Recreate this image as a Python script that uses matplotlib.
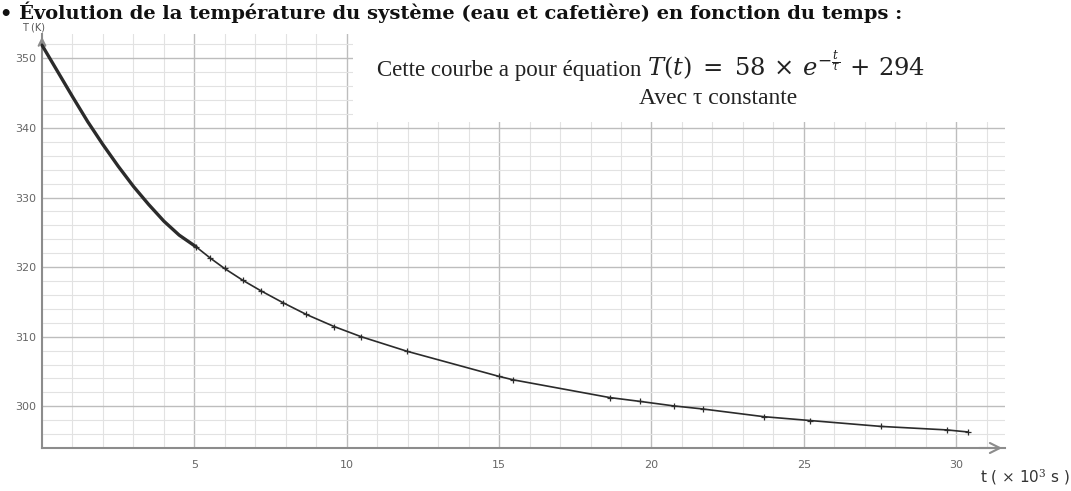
import matplotlib.pyplot as plt
from matplotlib.patches import Rectangle
from matplotlib.ticker import MultipleLocator
import numpy as np

# values: t in 10^3 s, T in K
t_vals = [0.0, 0.5, 1.0, 1.5, 2.0, 2.5, 3.0, 3.5, 4.0, 4.5, 5.06,
          5.52, 5.99, 6.59, 7.18, 7.90, 8.67, 9.59, 10.47, 11.98,
          14.99, 15.46, 18.63, 19.62, 20.73, 21.70, 23.69, 25.20,
          27.54, 29.69, 30.39]
T_vals = [351.9, 348.2, 344.5, 340.9, 337.6, 334.5, 331.6, 329.0, 326.6, 324.6, 322.9,
          321.3, 319.8, 318.1, 316.6, 314.9, 313.2, 311.45, 310.0, 307.9,
          304.3, 303.8, 301.25, 300.7, 300.05, 299.6, 298.5, 297.95,
          297.1, 296.6, 296.3]
n_dense = 11  # first points: thick part without visible markers

xticks = [5, 10, 15, 20, 25, 30]
yticks = [300, 310, 320, 330, 340, 350]

title = "\u2022 \u00c9volution de la temp\u00e9rature du syst\u00e8me (eau et cafeti\u00e8re) en fonction du temps :"
eq_words = "Cette courbe a pour \u00e9quation"
eq_math = r"$T(t)\;=\;58\,\times\,e^{-\frac{t}{\tau}}\,+\,294$"
avec_text = "Avec \u03c4 constante"

plt.rcParams['mathtext.fontset'] = 'dejavuserif'

fig = plt.figure(figsize=(10.71, 4.91), dpi=100)
ax = fig.add_axes([42 / 1071, 43 / 491, 963 / 1071, 414 / 491])

ax.set_xlim(0, 31.6)
ax.set_ylim(294, 353.5)

ax.xaxis.set_minor_locator(MultipleLocator(1))
ax.yaxis.set_minor_locator(MultipleLocator(2))
ax.set_xticks(xticks)
ax.set_yticks(yticks)
ax.set_xticklabels([str(v) for v in xticks])
ax.set_yticklabels([str(v) for v in yticks])
ax.grid(which='major', color='#bdbdbd', lw=1.0)
ax.grid(which='minor', color='#e2e2e2', lw=0.8)
ax.set_axisbelow(True)
ax.tick_params(which='both', length=0, labelsize=8, labelcolor='#666666')
ax.tick_params(axis='x', pad=9)
ax.tick_params(axis='y', pad=4)

for s in ['top', 'right']:
    ax.spines[s].set_visible(False)
for s in ['left', 'bottom']:
    ax.spines[s].set_color('#8c8c8c')
    ax.spines[s].set_linewidth(1.5)

# arrow heads on the axes
ax.annotate('', xy=(1.0, 0), xytext=(0.97, 0), xycoords='axes fraction',
            arrowprops=dict(arrowstyle='->', color='#8c8c8c', lw=1.5,
                            mutation_scale=18), annotation_clip=False)
ax.annotate('', xy=(0, 1.0), xytext=(0, 0.96), xycoords='axes fraction',
            arrowprops=dict(arrowstyle='->', color='#8c8c8c', lw=1.5,
                            mutation_scale=12), annotation_clip=False)

# white box behind the equation
ax.add_patch(Rectangle((10.2, 340.9), 31.6 - 10.2, 353.5 - 340.9,
                       facecolor='white', edgecolor='none', zorder=1.5))

ax.plot(t_vals[:n_dense], T_vals[:n_dense], color='#2b2b2b', lw=2.4,
        solid_capstyle='round', zorder=3, clip_on=False)
ax.plot(t_vals[n_dense - 1:], T_vals[n_dense - 1:], color='#2b2b2b', lw=1.2,
        marker='+', ms=4, mew=0.9, zorder=3)

# equation: words then math right after them
words = fig.text(377 / 1071, 1 - 76 / 491, eq_words, fontsize=16.5,
                 family='Liberation Serif', color='#222222', va='baseline')
fig.canvas.draw()
bb = words.get_window_extent()
fig.text((bb.x1 + 6) / 1071, 1 - 76 / 491, eq_math, fontsize=17.5,
         color='#222222', va='baseline')
fig.text(718 / 1071, 1 - 104 / 491, avec_text, fontsize=17, family='Liberation Serif',
         color='#222222', va='baseline', ha='center')

fig.text(0, 1 - 19 / 491, title, fontsize=14, family='DejaVu Serif',
         weight='bold', color='#111111', va='baseline')

fig.text(22 / 1071, 1 - 30 / 491, "T (K)", fontsize=7, color='#555555', va='baseline')
fig.text(980 / 1071, 1 - 482 / 491, r"t ( $\times$ 10$^3$ s )", fontsize=11,
         color='#333333', va='baseline')

fig.savefig('out.png', dpi=100)
